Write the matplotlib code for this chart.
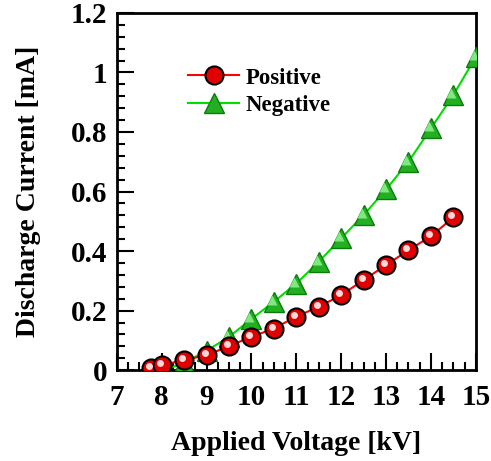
import numpy as np
import matplotlib.pyplot as plt
import matplotlib.transforms as mtransforms
from matplotlib.ticker import MultipleLocator

plt.rcParams['font.family'] = ['Liberation Serif', 'DejaVu Serif']
plt.rcParams['font.weight'] = 'bold'

pos_v = [7.77, 8.0, 8.5, 9.0, 9.5, 10.0, 10.5, 11.0, 11.5, 12.0, 12.5, 13.0, 13.5, 14.0, 14.5]
pos_i = [0.006, 0.017, 0.034, 0.05, 0.081, 0.112, 0.14, 0.18, 0.213, 0.252, 0.303, 0.353, 0.403, 0.45, 0.513]

neg_v = [8.0, 8.5, 9.0, 9.5, 10.0, 10.5, 11.0, 11.5, 12.0, 12.5, 13.0, 13.5, 14.0, 14.5, 15.0]
neg_i = [-0.003, 0.025, 0.065, 0.112, 0.172, 0.23, 0.291, 0.364, 0.443, 0.521, 0.607, 0.70, 0.812, 0.924, 1.052]

fig = plt.figure(figsize=(4.91, 4.61), dpi=100)
ax = fig.add_axes([0.238, 0.197, 0.731, 0.775])

hl = mtransforms.offset_copy(ax.transData, fig=fig, x=-2.0, y=2.0, units='dots')

ln_n, = ax.plot(neg_v, neg_i, color='#00dd00', lw=1.5, marker='^', ms=15,
                mfc='#22b022', mec='#0d7a0d', mew=1.0, label='Negative', zorder=3)
ax.plot(neg_v, neg_i, ls='none', marker='^', ms=7, mfc='#7fe87f', mec='none',
        transform=hl, zorder=3.1)

ln_p, = ax.plot(pos_v, pos_i, color='#ff0000', lw=1.5, marker='o', ms=13,
                mfc='#e00000', mec='black', mew=1.5, label='Positive', zorder=4)
ax.plot(pos_v, pos_i, ls='none', marker='o', ms=5, mfc='#ffd8d8', mec='none',
        transform=hl, zorder=4.1)

ax.set_xlim(7, 15)
ax.set_ylim(0, 1.2)
ax.xaxis.set_major_locator(MultipleLocator(1))
ax.xaxis.set_minor_locator(MultipleLocator(0.25))
ax.yaxis.set_major_locator(MultipleLocator(0.2))
ax.yaxis.set_minor_locator(MultipleLocator(0.04))
ax.yaxis.set_major_formatter(plt.FuncFormatter(lambda v, p: '%g' % round(v, 2)))

ax.tick_params(which='both', direction='in', top=False, right=False, width=1.5)
ax.tick_params(which='major', length=12, labelsize=21)
ax.tick_params(axis='y', which='major', pad=7)
ax.tick_params(axis='x', which='major', pad=10)
ax.tick_params(which='minor', length=6)
for s in ax.spines.values():
    s.set_linewidth(2)

ax.set_xlabel('Applied Voltage [kV]', fontsize=20, fontweight='bold', labelpad=14)
ax.set_ylabel('Discharge Current [mA]', fontsize=20, fontweight='bold', labelpad=21)

ax.legend([ln_p, ln_n], ['Positive', 'Negative'], loc='upper left',
          bbox_to_anchor=(0.142, 0.905), frameon=False, fontsize=16.5,
          handlelength=2.2, handletextpad=0.3, labelspacing=0.3)

fig.savefig('out.png', dpi=100)
